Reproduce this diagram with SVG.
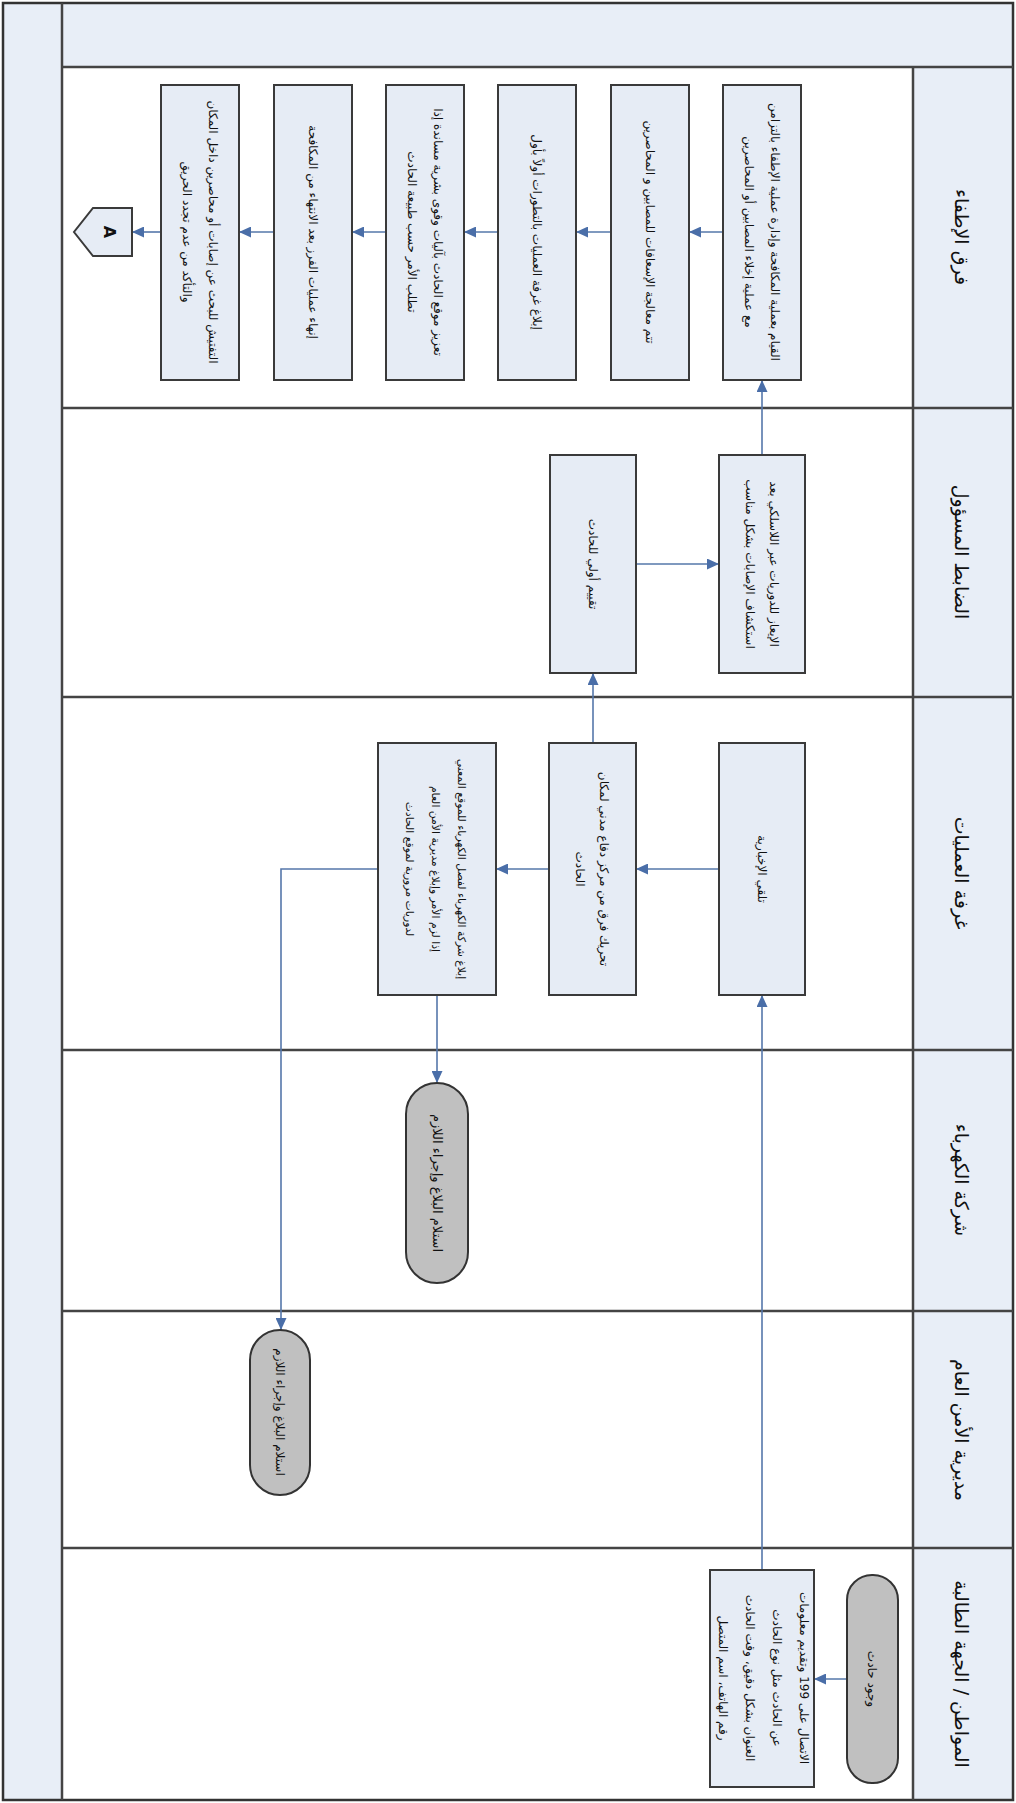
<svg xmlns="http://www.w3.org/2000/svg" width="1016" height="1803" viewBox="0 0 1016 1803">
<style>
.band{fill:#e8eef7}
.lane{stroke:#444;stroke-width:2.5;fill:none}
.box{fill:#e6ecf5;stroke:#3a3a3a;stroke-width:2}
.term{fill:#c0c0c0;stroke:#333;stroke-width:2}
.t{font-family:"DejaVu Sans",sans-serif;font-size:12px;fill:#111;text-anchor:middle;dominant-baseline:central;direction:rtl}
.s{font-size:10.8px}
.tm{font-size:13px}
.h{font-family:"DejaVu Sans",sans-serif;font-size:19px;fill:#111;text-anchor:middle;dominant-baseline:central;direction:rtl}
.c{stroke:#5577aa;stroke-width:1.6;fill:none;marker-end:url(#ah)}
</style>
<defs>
<marker id="ah" markerUnits="userSpaceOnUse" markerWidth="12" markerHeight="11" refX="12" refY="5.5" orient="auto">
<path d="M0,0 L12,5.5 L0,11 z" fill="#4a6ea8"/>
</marker>
</defs>
<g id="pool">
<rect x="3" y="3" width="1010" height="1797" fill="#ffffff"/>
<rect class="band" x="62" y="3" width="951" height="64"/>
<rect class="band" x="3" y="3" width="59" height="1797"/>
<rect class="band" x="913" y="67" width="100" height="1733"/>
<rect x="3" y="3" width="1010" height="1797" fill="none" stroke="#333" stroke-width="2.5"/>
<line class="lane" x1="62" y1="3" x2="62" y2="1800"/>
<line class="lane" x1="62" y1="67" x2="1013" y2="67"/>
<line class="lane" x1="913" y1="67" x2="913" y2="1800"/>
<line class="lane" x1="62" y1="408" x2="1013" y2="408"/>
<line class="lane" x1="62" y1="697" x2="1013" y2="697"/>
<line class="lane" x1="62" y1="1050" x2="1013" y2="1050"/>
<line class="lane" x1="62" y1="1311" x2="1013" y2="1311"/>
<line class="lane" x1="62" y1="1548" x2="1013" y2="1548"/>
</g>
<g id="lane-headers">
<text class="h" transform="translate(962,237) rotate(90)">فرق الإطفاء</text>
<text class="h" transform="translate(962,552) rotate(90)">الضابط المسؤول</text>
<text class="h" transform="translate(962,873) rotate(90)">غرفة العمليات</text>
<text class="h" transform="translate(962,1180) rotate(90)">شركة الكهرباء</text>
<text class="h" transform="translate(962,1430) rotate(90)">مديرية الأمن العام</text>
<text class="h" transform="translate(962,1674) rotate(90)">المواطن / الجهة الطالبة</text>
</g>
<g id="connectors">
<line class="c" x1="847" y1="1679" x2="814" y2="1679"/>
<line class="c" x1="762" y1="1570" x2="762" y2="995"/>
<line class="c" x1="719" y1="869" x2="636" y2="869"/>
<line class="c" x1="549" y1="869" x2="496" y2="869"/>
<line class="c" x1="593" y1="743" x2="593" y2="673"/>
<line class="c" x1="437" y1="995" x2="437" y2="1083"/>
<polyline class="c" points="378,869 281,869 281,1330"/>
<line class="c" x1="636" y1="564" x2="719" y2="564"/>
<line class="c" x1="762" y1="455" x2="762" y2="380"/>
<line class="c" x1="723" y1="232" x2="689" y2="232"/>
<line class="c" x1="611" y1="232" x2="576" y2="232"/>
<line class="c" x1="498" y1="232" x2="464" y2="232"/>
<line class="c" x1="386" y1="232" x2="352" y2="232"/>
<line class="c" x1="274" y1="232" x2="239" y2="232"/>
<line class="c" x1="161" y1="232" x2="132" y2="232"/>
</g>
<g id="fire1">
<rect class="box" x="723" y="85" width="78" height="295"/>
<g transform="translate(762,232) rotate(90)">
<text class="t" y="-13">القيام بعملية المكافحة وإدارة عملية الإطفاء بالتزامن</text>
<text class="t" y="13">مع عملية إخلاء المصابين أو المحاصرين</text>
</g>
</g>
<g id="fire2">
<rect class="box" x="611" y="85" width="78" height="295"/>
<text class="t" transform="translate(650,232) rotate(90)">تتم معالجة الإسعافات للمصابين و المحاصرين</text>
</g>
<g id="fire3">
<rect class="box" x="498" y="85" width="78" height="295"/>
<text class="t" transform="translate(537,232) rotate(90)">إبلاغ غرفة العمليات بالتطورات أولاً بأول</text>
</g>
<g id="fire4">
<rect class="box" x="386" y="85" width="78" height="295"/>
<g transform="translate(425,232) rotate(90)">
<text class="t" y="-13">تعزيز موقع الحادث بآليات وقوى بشرية مساندة إذا</text>
<text class="t" y="13">تطلب الأمر حسب طبيعة الحادث</text>
</g>
</g>
<g id="fire5">
<rect class="box" x="274" y="85" width="78" height="295"/>
<text class="t" transform="translate(313,232) rotate(90)">إنهاء عمليات الفرز بعد الانتهاء من المكافحة</text>
</g>
<g id="fire6">
<rect class="box" x="161" y="85" width="78" height="295"/>
<g transform="translate(200,232) rotate(90)">
<text class="t" y="-13">التفتيش للبحث عن إصابات أو محاصرين داخل المكان</text>
<text class="t" y="13">والتأكد من عدم تجدد الحريق</text>
</g>
</g>
<g id="offpage-A">
<path d="M132,208 L132,256 L93,256 L74,232 L93,208 Z" fill="#e6ecf5" stroke="#3a3a3a" stroke-width="2"/>
<text transform="translate(109,232) rotate(90)" style="font-family:'DejaVu Sans',sans-serif;font-size:16px;font-weight:bold;fill:#111;text-anchor:middle;dominant-baseline:central">A</text>
</g>
<g id="officer1">
<rect class="box" x="550" y="455" width="86" height="218"/>
<text class="t" transform="translate(593,564) rotate(90)">تقييم أولي للحادث</text>
</g>
<g id="officer2">
<rect class="box" x="719" y="455" width="86" height="218"/>
<g transform="translate(762,564) rotate(90)">
<text class="t" y="-12">الإيعاز للدوريات عبر اللاسلكي بعد</text>
<text class="t" y="12">استكشاف الإصابات بشكل مناسب</text>
</g>
</g>
<g id="ops1">
<rect class="box" x="719" y="743" width="86" height="252"/>
<text class="t" transform="translate(762,869) rotate(90)">تلقي الإخبارية</text>
</g>
<g id="ops2">
<rect class="box" x="549" y="743" width="87" height="252"/>
<g transform="translate(592,869) rotate(90)">
<text class="t" y="-12">تحريك فرق من مركز دفاع مدني لمكان</text>
<text class="t" y="12">الحادث</text>
</g>
</g>
<g id="ops3">
<rect class="box" x="378" y="743" width="118" height="252"/>
<g transform="translate(435,869) rotate(90)">
<text class="t s" y="-26">إبلاغ شركة الكهرباء لفصل الكهرباء للموقع المعني</text>
<text class="t s" y="0">إذا لزم الأمر وإبلاغ مديرية الأمن العام</text>
<text class="t s" y="26">لدوريات مرورية لموقع الحادث</text>
</g>
</g>
<g id="elec">
<rect class="term" x="406" y="1083" width="62" height="200" rx="31"/>
<text class="t tm" transform="translate(437,1183) rotate(90)">استلام البلاغ وإجراء اللازم</text>
</g>
<g id="security">
<rect class="term" x="250" y="1330" width="60" height="165" rx="30"/>
<text class="t" transform="translate(280,1412) rotate(90)">استلام البلاغ وإجراء اللازم</text>
</g>
<g id="start">
<rect class="term" x="847" y="1575" width="51" height="208" rx="25"/>
<text class="t" transform="translate(872,1679) rotate(90)">وجود حادث</text>
</g>
<g id="citizen">
<rect class="box" x="710" y="1570" width="104" height="217"/>
<g transform="translate(763,1678) rotate(90)">
<text class="t" y="-41">الاتصال على 199 وتقديم معلومات</text>
<text class="t" y="-14">عن الحادث مثل نوع الحادث</text>
<text class="t" y="13">العنوان بشكل دقيق، وقت الحادث</text>
<text class="t" y="40">رقم الهاتف، اسم المتصل</text>
</g>
</g>
</svg>
